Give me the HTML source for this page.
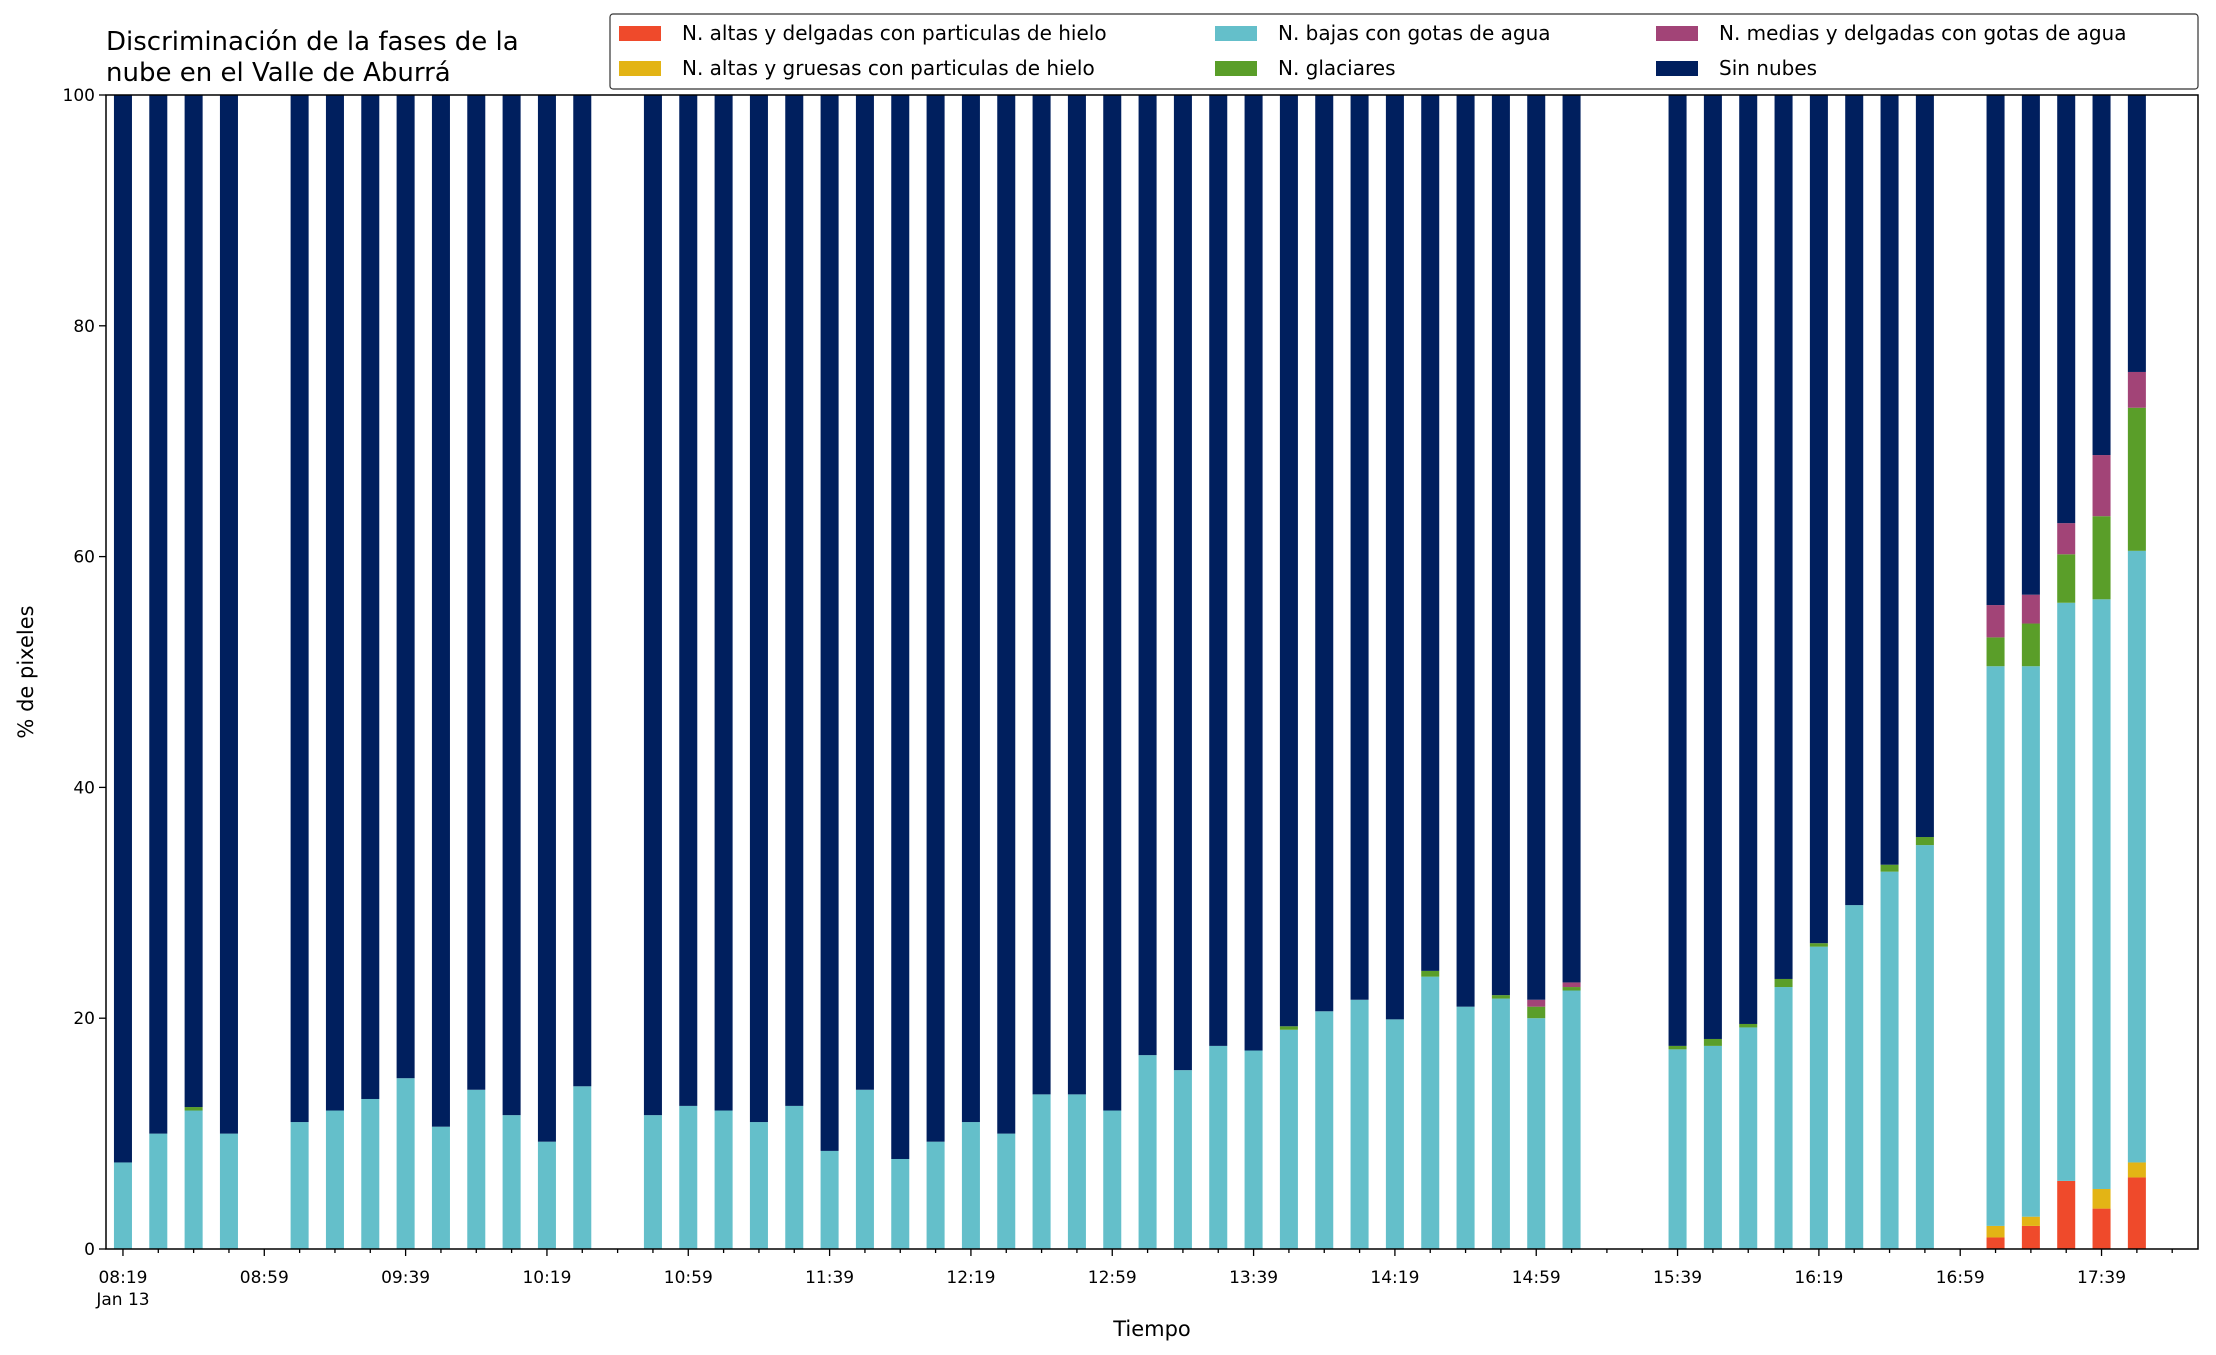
<!DOCTYPE html>
<html><head><meta charset="utf-8"><style>
body{margin:0;background:#fff;}
svg{display:block;font-family:"DejaVu Sans","Liberation Sans",sans-serif;}
</style></head><body>
<svg id="chart" width="2216" height="1355" xmlns="http://www.w3.org/2000/svg">
<text x="106" y="50" font-size="26">Discriminación de la fases de la</text>
<text x="106" y="81" font-size="26">nube en el Valle de Aburrá</text>
<text x="1152" y="1336" font-size="21" text-anchor="middle">Tiempo</text>
<text transform="translate(33,672) rotate(-90)" font-size="21" text-anchor="middle">% de pixeles</text>
<g id="bars"></g>
<g id="axes"></g>
<g id="legend"></g>
</svg>
<script>
const timeLabels=["08:19","08:59","09:39","10:19","10:59","11:39","12:19","12:59","13:39","14:19","14:59","15:39","16:19","16:59","17:39"];
const yTicks=[0,20,40,60,80,100];
const seriesNames=["N. altas y delgadas con particulas de hielo","N. altas y gruesas con particulas de hielo","N. bajas con gotas de agua","N. glaciares","N. medias y delgadas con gotas de agua","Sin nubes"];
const seriesColors=["#ef4a2b","#e3b415","#64bfca","#5a9e29","#a24477","#001f5e"];
const N=null;
const altasDelgadas=[0,0,0,0,N,0,0,0,0,0,0,0,0,0,N,0,0,0,0,0,0,0,0,0,0,0,0,0,0,0,0,0,0,0,0,0,0,0,0,0,0,0,N,N,0,0,0,0,0,0,0,0,N,1,2,5.9,3.5,6.2];
const altasGruesas=[0,0,0,0,N,0,0,0,0,0,0,0,0,0,N,0,0,0,0,0,0,0,0,0,0,0,0,0,0,0,0,0,0,0,0,0,0,0,0,0,0,0,N,N,0,0,0,0,0,0,0,0,N,1,0.8,0,1.7,1.3];
const bajas=[7.5,10,12,10,N,11,12,13,14.8,10.6,13.8,11.6,9.3,14.1,N,11.6,12.4,12,11,12.4,8.5,13.8,7.8,9.3,11,10,13.4,13.4,12,16.8,15.5,17.6,17.2,19,20.6,21.6,19.9,23.6,21,21.7,20,22.4,N,N,17.3,17.6,19.2,22.7,26.2,29.8,32.7,35,N,48.5,47.7,50.1,51.1,53];
const glaciares=[0,0,0.3,0,N,0,0,0,0,0,0,0,0,0,N,0,0,0,0,0,0,0,0,0,0,0,0,0,0,0,0,0,0,0.3,0,0,0,0.5,0,0.3,1,0.3,N,N,0.3,0.6,0.3,0.7,0.3,0,0.6,0.7,N,2.5,3.7,4.2,7.2,12.4];
const medias=[0,0,0,0,N,0,0,0,0,0,0,0,0,0,N,0,0,0,0,0,0,0,0,0,0,0,0,0,0,0,0,0,0,0,0,0,0,0,0,0,0.6,0.4,N,N,0,0,0,0,0,0,0,0,N,2.8,2.5,2.7,5.3,3.1];
const series=[altasDelgadas,altasGruesas,bajas,glaciares,medias];
const L=106,R=2198,T=95,B=1249,xmin=-0.48,xmax=58.73;
const xs=i=>L+(i-xmin)/(xmax-xmin)*(R-L);
const ys=v=>B-v/100*(B-T);
const ns="http://www.w3.org/2000/svg";
function mk(tag,attrs,parent){const e=document.createElementNS(ns,tag);for(const k in attrs)e.setAttribute(k,attrs[k]);parent.appendChild(e);return e;}
const bars=document.getElementById('bars'),axes=document.getElementById('axes'),leg=document.getElementById('legend');
const bw=0.51*(R-L)/(xmax-xmin);
for(let i=0;i<bajas.length;i++){
  if(bajas[i]===null)continue;
  let acc=0;
  const vals=series.map(s=>s[i]);
  vals.push(100-vals.reduce((a,b)=>a+b,0));
  vals.forEach((v,k)=>{
    if(v<=0){return;}
    const r=mk('rect',{x:xs(i)-bw/2,y:ys(acc+v),width:bw,height:ys(acc)-ys(acc+v),fill:seriesColors[k]},bars);
    
    
    acc+=v;
  });
}
const frame=mk('rect',{x:L,y:T,width:R-L,height:B-T,fill:'none',stroke:'#000','stroke-width':1.5},axes);


yTicks.forEach(v=>{
  mk('line',{x1:L-7,x2:L,y1:ys(v),y2:ys(v),stroke:'#000','stroke-width':1.3},axes);
  const t=mk('text',{x:L-11,y:ys(v)+6,'font-size':17,'text-anchor':'end'},axes);
  t.textContent=v;
  
  
});
for(let i=0;i<=58;i++){
  const major=i%4===0;
  mk('line',{x1:xs(i),x2:xs(i),y1:B,y2:B+(major?7:4),stroke:'#000','stroke-width':1.3},axes);
}
timeLabels.forEach((lab,j)=>{
  const t=mk('text',{x:xs(j*4),y:1283,'font-size':17,'text-anchor':'middle'},axes);
  t.textContent=lab;
  
  
});
const jt=mk('text',{x:xs(0),y:1305,'font-size':17,'text-anchor':'middle'},axes);
jt.textContent='Jan 13';


const lb=mk('rect',{x:610,y:14,width:1588,height:75,rx:3,fill:'#fff',stroke:'#333','stroke-width':1.2},leg);


const colX=[619,1215,1656],rowY=[33,68];
seriesNames.forEach((nm,k)=>{
  const c=Math.floor(k/2),r=k%2;
  const sw=mk('rect',{x:colX[c],y:rowY[r]-7,width:42,height:15,fill:seriesColors[k]},leg);
  
  
  const t=mk('text',{x:colX[c]+63,y:rowY[r]+7,'font-size':20},leg);
  t.textContent=nm;
  
  
});
</script>
</body></html>
